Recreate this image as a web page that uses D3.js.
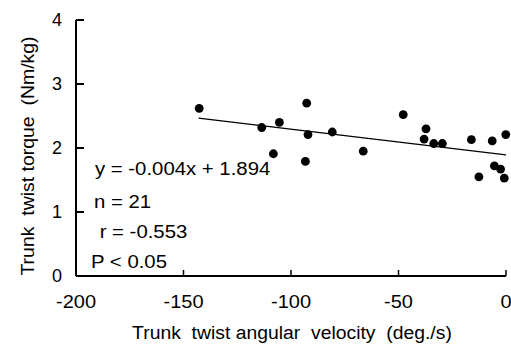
<!DOCTYPE html>
<html>
<head>
<meta charset="utf-8">
<script src="https://cdn.jsdelivr.net/npm/d3@7"></script>
<style>
  body { margin: 0; background: #fff; }
  svg text { font-family: "Liberation Sans", Arial, sans-serif; fill: #000; }
  .axis path, .axis line { stroke: #000; }
  .fit { fill: none; stroke: #000; stroke-width: 1.3px; }
</style>
</head>
<body>
<div class="scatter"></div>
<script>
const WIDTH = 511;
const HEIGHT = 345;
const MARGIN = { top: 20, right: 5, bottom: 69, left: 76 };

const INNER_WIDTH = WIDTH - MARGIN.left - MARGIN.right;
const INNER_HEIGHT = HEIGHT - MARGIN.top - MARGIN.bottom;

// trunk twist angular velocity (deg./s)
var velocity = [-142.7, -113.6, -108.2, -105.4, -93.3, -92.7, -92.1, -80.8, -66.4, -47.8,
                -38.1, -37.2, -33.6, -29.6, -16.1, -12.6, -6.4, -5.4, -2.5, -0.8, -0.1];
// trunk twist torque (Nm/kg)
var torque = [2.62, 2.32, 1.91, 2.40, 1.79, 2.70, 2.21, 2.25, 1.95, 2.52,
              2.14, 2.30, 2.07, 2.07, 2.13, 1.55, 2.11, 1.72, 1.67, 1.53, 2.21];

var xTicks = [-200, -150, -100, -50, 0];
var yTicks = [0, 1, 2, 3, 4];

// regression y = -0.004x + 1.894 over the range of the data
var fitX = [-143, 0];
var fitY = [2.466, 1.894];

var stats = ['y = -0.004x + 1.894', 'n = 21', ' r = -0.553', 'P < 0.05'];

var xScale = d3.scaleLinear().range([0, INNER_WIDTH]).domain([-200, 0]);
var yScale = d3.scaleLinear().range([INNER_HEIGHT, 0]).domain([0, 4]);

var svg = d3.select('.scatter').append('svg')
    .attr('width', WIDTH)
    .attr('height', HEIGHT)
    .append('g')
    .attr('transform', 'translate(' + MARGIN.left + ',' + MARGIN.top + ')');

// the original lettering is a bit wider than Arial
function stretch(sel, k) {
    sel.each(function () {
        var w = this.getComputedTextLength();
        d3.select(this).attr('textLength', w * k).attr('lengthAdjust', 'spacingAndGlyphs');
    });
}

function drawAxis(svg) {
    var xAxis = d3.axisBottom(xScale).tickValues(xTicks).tickFormat(d3.format('d'))
        .tickSizeInner(-6).tickSizeOuter(0).tickPadding(19).offset(0);
    var yAxis = d3.axisLeft(yScale).tickValues(yTicks).tickFormat(d3.format('d'))
        .tickSizeInner(-8).tickSizeOuter(0).tickPadding(14).offset(0);

    var xAxisG = svg.append('g').attr('class', 'axis')
        .attr('transform', 'translate(0,' + INNER_HEIGHT + ')')
        .call(xAxis);
    xAxisG.select('.domain').attr('stroke-width', 2);
    xAxisG.selectAll('.tick line').attr('stroke-width', 1.5);

    var yAxisG = svg.append('g').attr('class', 'axis').call(yAxis);
    yAxisG.select('.domain').attr('stroke-width', 2);
    yAxisG.selectAll('.tick line').attr('stroke-width', 2);

    svg.selectAll('.axis text').attr('font-size', 18).attr('font-family', null);
    xAxisG.selectAll('.tick text').text(function (d) { return d === 0 ? '0' : '-' + Math.abs(d); });
    stretch(xAxisG.selectAll('.tick text'), 1.11);

    svg.append('text')
        .attr('x', INNER_WIDTH / 2 + 1)
        .attr('y', INNER_HEIGHT + 63)
        .attr('text-anchor', 'middle')
        .attr('font-size', 18)
        .attr('xml:space', 'preserve')
        .text('Trunk  twist angular  velocity  (deg./s)')
        .call(stretch, 1.075);

    svg.append('text')
        .attr('transform', 'translate(-42,' + (136) + ') rotate(-90)')
        .attr('text-anchor', 'middle')
        .attr('font-size', 18)
        .attr('xml:space', 'preserve')
        .text('Trunk  twist torque  (Nm/kg)')
        .call(stretch, 1.08);
}

function drawFit(svg) {
    var line = d3.line()
        .x(function (d, i) { return xScale(d); })
        .y(function (d, i) { return yScale(fitY[i]); });
    svg.append('path').attr('class', 'fit').attr('d', line(fitX));
}

function drawPoints(svg) {
    svg.append('g').selectAll('circle').data(velocity).enter().append('circle')
        .attr('cx', function (d) { return xScale(d); })
        .attr('cy', function (d, i) { return yScale(torque[i]); })
        .attr('r', 4.4)
        .attr('fill', '#000');
}

function drawStats(svg) {
    var pos = [[19, 155], [18, 188], [18, 218], [15, 248]];
    svg.append('g').selectAll('text').data(stats).enter().append('text')
        .attr('x', function (d, i) { return pos[i][0]; })
        .attr('y', function (d, i) { return pos[i][1]; })
        .attr('font-size', 18)
        .attr('xml:space', 'preserve')
        .text(function (d) { return d; })
        .call(stretch, 1.13);
}

drawAxis(svg);
drawFit(svg);
drawPoints(svg);
drawStats(svg);
</script>
</body>
</html>
